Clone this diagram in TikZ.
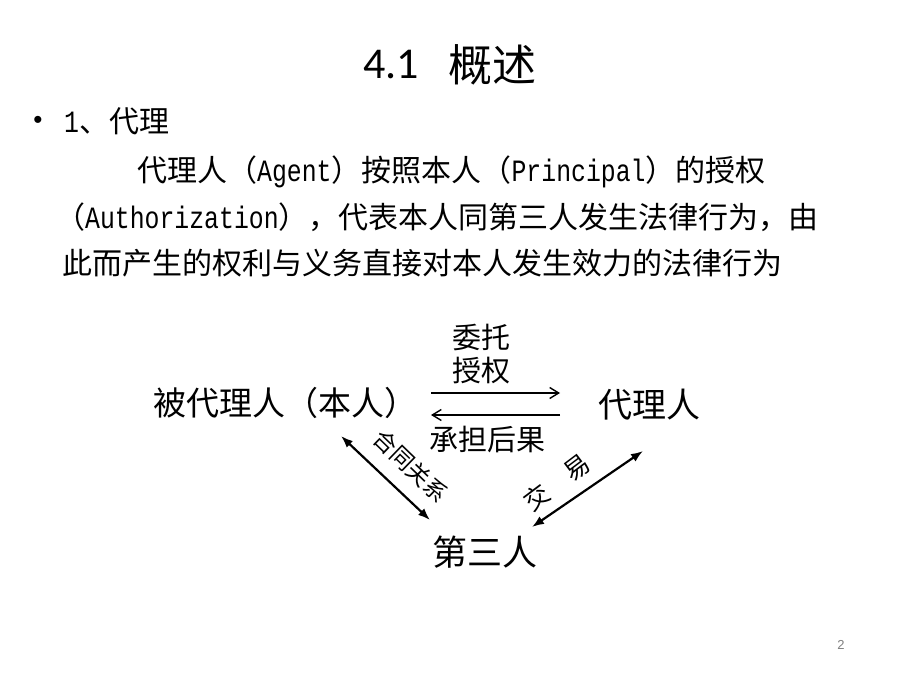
\documentclass[tikz,border=0pt]{standalone}
\usepackage{fontspec}
\setmainfont{Noto Sans CJK SC}
\newfontfamily\cjkf{Noto Sans CJK SC}
\newfontfamily\monof[FakeStretch=0.8]{Liberation Mono}
\newfontfamily\titlef{Carlito}
\usetikzlibrary{arrows.meta}
\newcommand\lat[1]{{\monof\fontsize{31bp}{36bp}\selectfont #1}}
\begin{document}
\begin{tikzpicture}[x=1bp,y=-1bp,
  body/.style={inner sep=0pt,anchor=base west,font=\cjkf\fontsize{30bp}{36bp}\selectfont},
  big/.style={inner sep=0pt,font=\cjkf\fontsize{#1}{#1}\selectfont},
  lbl/.style={inner sep=0pt,font=\cjkf\fontsize{#1}{#1}\selectfont},
  harrow/.style={line width=1.4bp,-{Straight Barb[length=9bp,width=11bp,line width=1.4bp]}},
  darrow/.style={line width=2.2bp,{Latex[length=12bp,width=9bp]}-{Latex[length=12bp,width=9bp]}}]
\useasboundingbox[fill=white] (0,0) rectangle (900,675);
% title
\node[inner sep=0pt,font=\titlef\fontsize{44bp}{50bp}\selectfont] (tnum) at (391,65) {4.1};
\node[big=44bp] (ttxt) at (492,65) {概述};
% bullet text
\node[inner sep=0pt,font=\fontspec{Liberation Sans}\fontsize{26bp}{30bp}\selectfont] (bul) at (38,122) {•};
\node[body] (l1) at (64,133) {\lat{1}、代理};
\node[body] (l2) at (137,181) {代理人（\lat{Agent}）按照本人（\lat{Principal}）的授权};
\node[body] (l3) at (55,228) {（\lat{Authorization}），代表本人同第三人发生法律行为，由};
\node[body] (l4) at (62,274) {此而产生的权利与义务直接对本人发生效力的法律行为};
% diagram
\node[big=33bp] (P) at (285,403) {被代理人（本人）};
\node[big=34bp] (A) at (649,405) {代理人};
\node[big=35bp] (T) at (485,552) {第三人};
\node[lbl=29bp,align=center] (wt) at (481,354) {委托\\[4bp]授权};
\node[lbl=29bp] (cd) at (487,440) {承担后果};
\node[lbl=23bp,rotate=-44] (ht) at (411,466) {合同关系};
\node[lbl=25bp,rotate=37] (jy) at (557,482) {交\hspace{1em}易};
% arrow ends
\coordinate (h1a) at (431,393);
\coordinate (h1b) at (560,393);
\coordinate (h2a) at (560,415);
\coordinate (h2b) at (431,415);
\coordinate (d1a) at (341,436);
\coordinate (d1b) at (430,520);
\coordinate (d2a) at (643,451);
\coordinate (d2b) at (532,527);
\draw[harrow] (h1a) -- (h1b);
\draw[harrow] (h2a) -- (h2b);
\draw[darrow] (d1a) -- (d1b);
\draw[darrow] (d2a) -- (d2b);
% page number
\node[inner sep=0pt,text=black!50,font=\fontspec{Liberation Sans}\fontsize{13bp}{15bp}\selectfont] (pg) at (841,645) {2};
\end{tikzpicture}
\end{document}
